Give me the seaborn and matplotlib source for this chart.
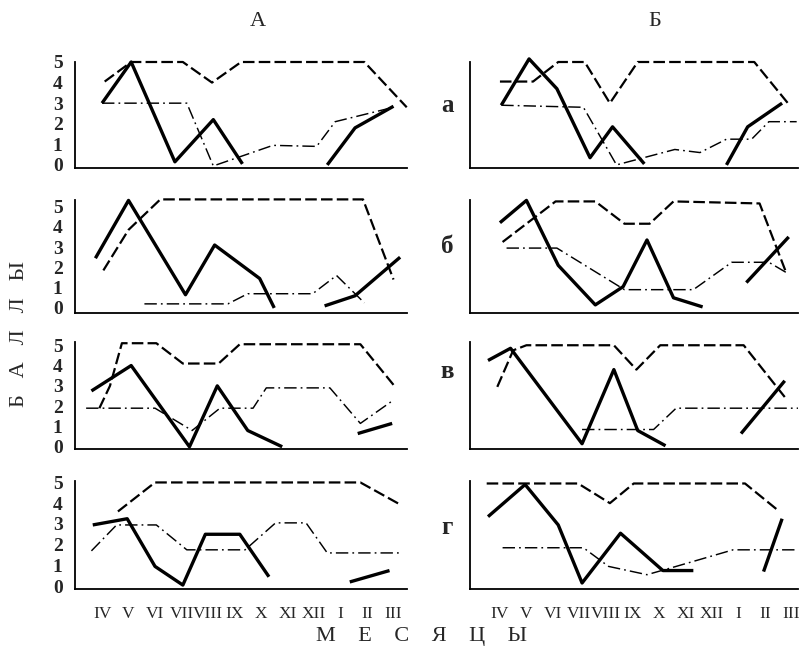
import numpy as np
import pandas as pd
import matplotlib
matplotlib.use("Agg")
import matplotlib.pyplot as plt
import seaborn as sns

months = ["IV", "V", "VI", "VII", "VIII", "IX", "X", "XI", "XII", "I", "II", "III"]
score_ticks = [0, 1, 2, 3, 4, 5]
col_titles = ["А", "Б"]
row_titles = ["а", "б", "в", "г"]

# every series = list of segments, a segment = list of (month position, score)
# column А
A_a_solid = [[(0.0, 3.0), (1.1, 5.0), (2.75, 0.15), (4.2, 2.2), (5.3, 0.05)],
             [(8.5, 0.0), (9.55, 1.8), (11.0, 2.85)]]
A_a_dash = [[(0.1, 4.05), (1.1, 5.0), (3.05, 5.0), (4.15, 4.0), (5.25, 5.0), (9.9, 5.0), (11.5, 2.8)]]
A_a_dashdot = [[(0.0, 3.0), (3.2, 3.0), (4.2, -0.05), (6.45, 0.95), (8.1, 0.9), (8.8, 2.1), (11.0, 2.8)]]

A_b_solid = [[(-0.25, 2.45), (1.0, 5.3), (3.15, 0.65), (4.25, 3.1), (5.95, 1.45), (6.5, 0.0)],
             [(8.4, 0.1), (9.55, 0.6), (11.25, 2.5)]]
A_b_dash = [[(0.05, 1.85), (1.0, 3.85), (2.2, 5.35), (9.85, 5.35), (11.0, 1.4)]]
A_b_dashdot = [[(1.6, 0.2), (4.75, 0.2), (5.5, 0.7), (7.95, 0.7), (8.85, 1.6), (9.9, 0.25)]]

A_c_solid = [[(-0.4, 2.75), (1.1, 4.0), (3.3, 0.0), (4.35, 3.0), (5.5, 0.8), (6.8, 0.0)],
             [(9.65, 0.65), (10.95, 1.15)]]
A_c_dash = [[(-0.1, 1.9), (0.3, 3.0), (0.75, 5.1), (2.05, 5.1), (3.05, 4.1), (4.4, 4.1),
             (5.2, 5.05), (9.75, 5.05), (11.0, 3.05)]]
A_c_dashdot = [[(-0.6, 1.9), (2.0, 1.9), (3.4, 0.8), (4.45, 1.9), (5.7, 1.9), (6.2, 2.9),
                (8.6, 2.9), (9.75, 1.15), (11.0, 2.3)]]

A_d_solid = [[(-0.35, 2.95), (0.95, 3.25), (2.0, 0.95), (3.05, 0.05), (3.9, 2.5), (5.2, 2.5), (6.3, 0.45)],
             [(9.35, 0.2), (10.85, 0.75)]]
A_d_dash = [[(0.6, 3.6), (2.0, 5.0), (9.75, 5.0), (11.3, 3.9)]]
A_d_dashdot = [[(-0.4, 1.7), (0.55, 2.95), (2.05, 2.95), (3.2, 1.75), (5.4, 1.75), (6.55, 3.05),
                (7.7, 3.05), (8.5, 1.6), (11.35, 1.6)]]

# column Б
B_a_solid = [[(0.05, 2.9), (1.1, 5.15), (2.15, 3.7), (3.4, 0.35), (4.25, 1.85), (5.45, 0.05)],
             [(8.55, 0.0), (9.35, 1.85), (10.65, 3.0)]]
B_a_dash = [[(0.0, 4.05), (1.25, 4.05), (2.2, 5.0), (3.2, 5.0), (4.15, 3.0), (5.2, 5.0),
             (9.6, 5.0), (10.9, 2.95)]]
B_a_dashdot = [[(0.05, 2.9), (3.15, 2.8), (4.4, 0.0), (6.6, 0.75), (7.55, 0.6), (8.55, 1.25),
                (9.5, 1.25), (10.15, 2.1), (11.2, 2.1)]]

B_b_solid = [[(0.0, 4.2), (1.0, 5.3), (2.2, 2.1), (3.6, 0.15), (4.65, 1.05), (5.55, 3.35),
              (6.55, 0.5), (7.65, 0.05)],
             [(9.3, 1.25), (10.9, 3.5)]]
B_b_dash = [[(0.1, 3.25), (2.1, 5.25), (3.6, 5.25), (4.7, 4.15), (5.65, 4.15), (6.55, 5.25),
             (9.8, 5.15), (10.8, 1.75)]]
B_b_dashdot = [[(0.25, 2.95), (2.15, 2.95), (4.7, 0.9), (7.3, 0.9), (8.75, 2.25), (10.15, 2.25),
                (10.8, 1.75)]]

B_c_solid = [[(-0.45, 4.25), (0.4, 4.85), (3.1, 0.15), (4.3, 3.8), (5.2, 0.8), (6.25, 0.05)],
             [(9.1, 0.65), (10.75, 3.25)]]
B_c_dash = [[(-0.1, 2.95), (0.5, 4.75), (1.0, 5.0), (4.3, 5.0), (5.15, 3.8), (6.05, 5.0),
             (9.2, 5.0), (10.75, 2.45)]]
B_c_dashdot = [[(3.1, 0.85), (5.8, 0.85), (6.65, 1.9), (11.25, 1.9)]]

B_d_solid = [[(-0.45, 3.35), (0.95, 4.9), (2.2, 2.95), (3.1, 0.15), (4.55, 2.55), (6.15, 0.75), (7.3, 0.75)],
             [(9.95, 0.7), (10.65, 3.25)]]
B_d_dash = [[(-0.5, 4.95), (2.95, 4.95), (4.15, 4.0), (5.05, 4.95), (9.25, 4.95), (10.5, 3.65)]]
B_d_dashdot = [[(0.1, 1.85), (3.15, 1.85), (4.1, 0.95), (5.55, 0.55), (6.65, 0.95), (8.8, 1.75), (11.25, 1.75)]]

panels = {
    (0, 0): (A_a_solid, A_a_dash, A_a_dashdot), (0, 1): (B_a_solid, B_a_dash, B_a_dashdot),
    (1, 0): (A_b_solid, A_b_dash, A_b_dashdot), (1, 1): (B_b_solid, B_b_dash, B_b_dashdot),
    (2, 0): (A_c_solid, A_c_dash, A_c_dashdot), (2, 1): (B_c_solid, B_c_dash, B_c_dashdot),
    (3, 0): (A_d_solid, A_d_dash, A_d_dashdot), (3, 1): (B_d_solid, B_d_dash, B_d_dashdot),
}

sns.set_theme(style="white")
plt.rcParams["font.family"] = ["Liberation Serif", "DejaVu Serif"]

W, H = 799, 660
fig = plt.figure(figsize=(W / 100, H / 100), dpi=100)

col_px = [(75, 407), (470, 798)]
row_px = [(62, 168), (200, 313), (342, 449), (481, 589)]
xlims = [(-1.02, 11.51), (-1.13, 11.25)]
ylims = [(-0.15, 5.0), (-0.25, 5.32), (-0.11, 5.16), (-0.14, 5.07)]

styles = [
    dict(color="black", linewidth=2.4, linestyle="-", solid_capstyle="butt"),
    dict(color="black", linewidth=1.6, linestyle=(0, (5.2, 1.9))),
    dict(color="black", linewidth=1.05, linestyle=(0, (8.5, 2.8, 1.2, 2.8))),
]

for (r, c), series in panels.items():
    x0, x1 = col_px[c]
    y0, y1 = row_px[r]
    ax = fig.add_axes([x0 / W, 1 - y1 / H, (x1 - x0) / W, (y1 - y0) / H])
    ax.set_facecolor("none")
    for segs, st in zip(series, styles):
        for seg in segs:
            df = pd.DataFrame(seg, columns=["month", "score"])
            sns.lineplot(data=df, x="month", y="score", sort=False, estimator=None,
                         ax=ax, clip_on=False, **st)
    ax.set(xlabel="", ylabel="")
    ax.set_xlim(*xlims[c])
    ax.set_ylim(*ylims[r])
    for s in ["top", "right"]:
        ax.spines[s].set_visible(False)
    for s in ["left", "bottom"]:
        ax.spines[s].set_color("black")
        ax.spines[s].set_linewidth(1.3)
    if c == 0:
        ax.set_yticks(score_ticks)
        ax.set_yticklabels([str(v) for v in score_ticks], fontsize=14, fontweight="bold")
    else:
        ax.set_yticks([])
    if r == 3:
        ax.set_xticks(range(len(months)))
        ax.set_xticklabels(months, fontsize=12.5)
    else:
        ax.set_xticks([])
    ax.tick_params(axis="y", length=0, pad=9)
    ax.tick_params(axis="x", length=0, pad=12)

# titles and labels
fig.text(258 / W, 1 - 22 / H, col_titles[0], ha="center", va="center", fontsize=16)
fig.text(655 / W, 1 - 22 / H, col_titles[1], ha="center", va="center", fontsize=16)
for lab, ypx in zip(row_titles, [106, 246, 372, 528]):
    fig.text(447 / W, 1 - ypx / H, lab, ha="center", va="center", fontsize=18, fontweight="bold")
fig.text(20 / W, 1 - 334 / H, "Б   А   Л   Л   Ы", rotation=90, ha="center", va="center", fontsize=16)
fig.text(421 / W, 1 - 636 / H, "М    Е    С    Я    Ц    Ы", ha="center", va="center", fontsize=16)

fig.savefig("out.png", dpi=100, facecolor="white")
